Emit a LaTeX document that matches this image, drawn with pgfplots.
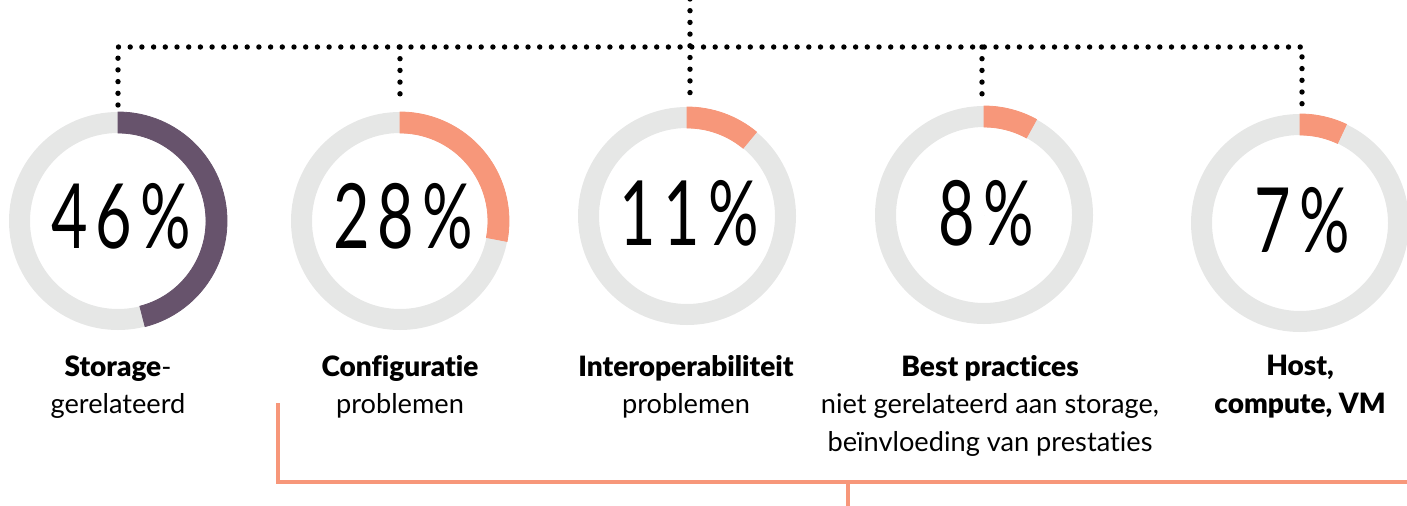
\documentclass[border=0pt]{standalone}
\usepackage{fontspec}
\setmainfont{Lato}[Ligatures=NoCommon]
\newfontfamily\numfont{Lato}[FakeStretch=0.7, LetterSpace=9]
\newfontfamily\blackfont{Lato Black}[Ligatures=NoCommon]
\usepackage{pgfplots}
\pgfplotsset{compat=1.18}
\usepackage{pgfplotstable}
\definecolor{ringgray}{HTML}{E6E7E6}
\definecolor{ringpurple}{HTML}{67536C}
\definecolor{ringsalmon}{HTML}{F7977A}

% donut centres (pixel coordinates, y downwards negated), share in %
\pgfplotstableread{
x    y     pct
118  -221  46
}\donutA
\pgfplotstableread{
x    y     pct
400  -221  28
687  -216  11
984  -215  8
1300 -223  7
}\donutB

\pgfplotsset{
  ring/.style={only marks, mark=o, mark size=49.25pt,
    mark options={draw=ringgray, line width=10.5pt}},
  donut/.style={scatter, only marks, mark=*, mark size=0pt,
    point meta=explicit,
    visualization depends on={\thisrow{pct} \as \pct},
    scatter/@pre marker code/.code={%
      \pgfmathsetmacro{\endang}{90-3.6*\pct}%
      \fill[#1] (90:54.5pt) arc[start angle=90,end angle=\endang,radius=54.5pt]
        -- (\endang:44pt) arc[start angle=\endang,end angle=90,radius=44pt] -- cycle;
    },
    scatter/@post marker code/.code={},
  },
}

\begin{document}
\begin{tikzpicture}
\useasboundingbox (0,0) rectangle (703.5pt,252.5pt);
\clip (0,0) rectangle (703.5pt,252.5pt);
\begin{axis}[
  at={(0,252.5pt)}, anchor=origin,
  scale only axis, width=703.5pt, height=252.5pt,
  xmin=0, xmax=1407, ymin=-505, ymax=0,
  enlargelimits=false, axis lines=none,
  clip=false,
]
% dotted connectors
\addplot[black, line width=2.7pt, line cap=round, dash pattern=on 0pt off 5.85pt]
  coordinates {(118,-105) (118,-47) (1302,-47) (1302,-105)};
\addplot[black, line width=2.7pt, line cap=round, dash pattern=on 0pt off 5.85pt]
  coordinates {(400,-47) (400,-105)};
\addplot[black, line width=2.7pt, line cap=round, dash pattern=on 0pt off 5.85pt]
  coordinates {(690,1) (690,-104)};
\addplot[black, line width=2.7pt, line cap=round, dash pattern=on 0pt off 5.85pt]
  coordinates {(982,-47) (982,-104)};

% donut background rings
\addplot[ring] table[x=x, y=y] {\donutA};
\addplot[ring] table[x=x, y=y] {\donutB};
% donut shares
\addplot[donut=ringpurple] table[x=x, y=y, meta=pct] {\donutA};
\addplot[donut=ringsalmon] table[x=x, y=y, meta=pct] {\donutB};

% orange bracket
\addplot[ringsalmon, line width=2.2pt] coordinates {(278,-403) (278,-482) (1420,-482)};
\addplot[ringsalmon, line width=2.2pt] coordinates {(848,-482) (848,-510)};

% percentages
\node[anchor=base, font=\numfont\fontsize{45pt}{50pt}\selectfont] at (axis cs:121,-248) {46\%};
\node[anchor=base, font=\numfont\fontsize{45pt}{50pt}\selectfont] at (axis cs:403,-248) {28\%};
\node[anchor=base, font=\numfont\fontsize{45pt}{50pt}\selectfont] at (axis cs:689,-245) {11\%};
\node[anchor=base, font=\numfont\fontsize{45pt}{50pt}\selectfont] at (axis cs:986,-245) {8\%};
\node[anchor=base, font=\numfont\fontsize{45pt}{50pt}\selectfont] at (axis cs:1302,-252) {7\%};

% labels
\node[anchor=north, inner sep=0pt, align=center, font=\fontsize{13.6pt}{18.75pt}\selectfont] at (axis cs:118,-355) {{\blackfont\fontsize{14pt}{18.75pt}\selectfont Storage}-\\gerelateerd};
\node[anchor=north, inner sep=0pt, align=center, font=\fontsize{13.6pt}{18.75pt}\selectfont] at (axis cs:400,-355) {{\blackfont\fontsize{14pt}{18.75pt}\selectfont Configuratie}\\problemen};
\node[anchor=north, inner sep=0pt, align=center, font=\fontsize{13.6pt}{18.75pt}\selectfont] at (axis cs:686,-355) {{\blackfont\fontsize{14pt}{18.75pt}\selectfont Interoperabiliteit}\\problemen};
\node[anchor=north, inner sep=0pt, align=center, font=\fontsize{13.6pt}{18.75pt}\selectfont] at (axis cs:990,-355) {{\blackfont\fontsize{14pt}{18.75pt}\selectfont Best practices}\\niet gerelateerd aan storage,\\beïnvloeding van prestaties};
\node[anchor=north, inner sep=0pt, align=center, font=\blackfont\fontsize{14pt}{18.75pt}\selectfont] at (axis cs:1300,-355) {Host,\\compute, VM};
\end{axis}
\end{tikzpicture}
\end{document}
